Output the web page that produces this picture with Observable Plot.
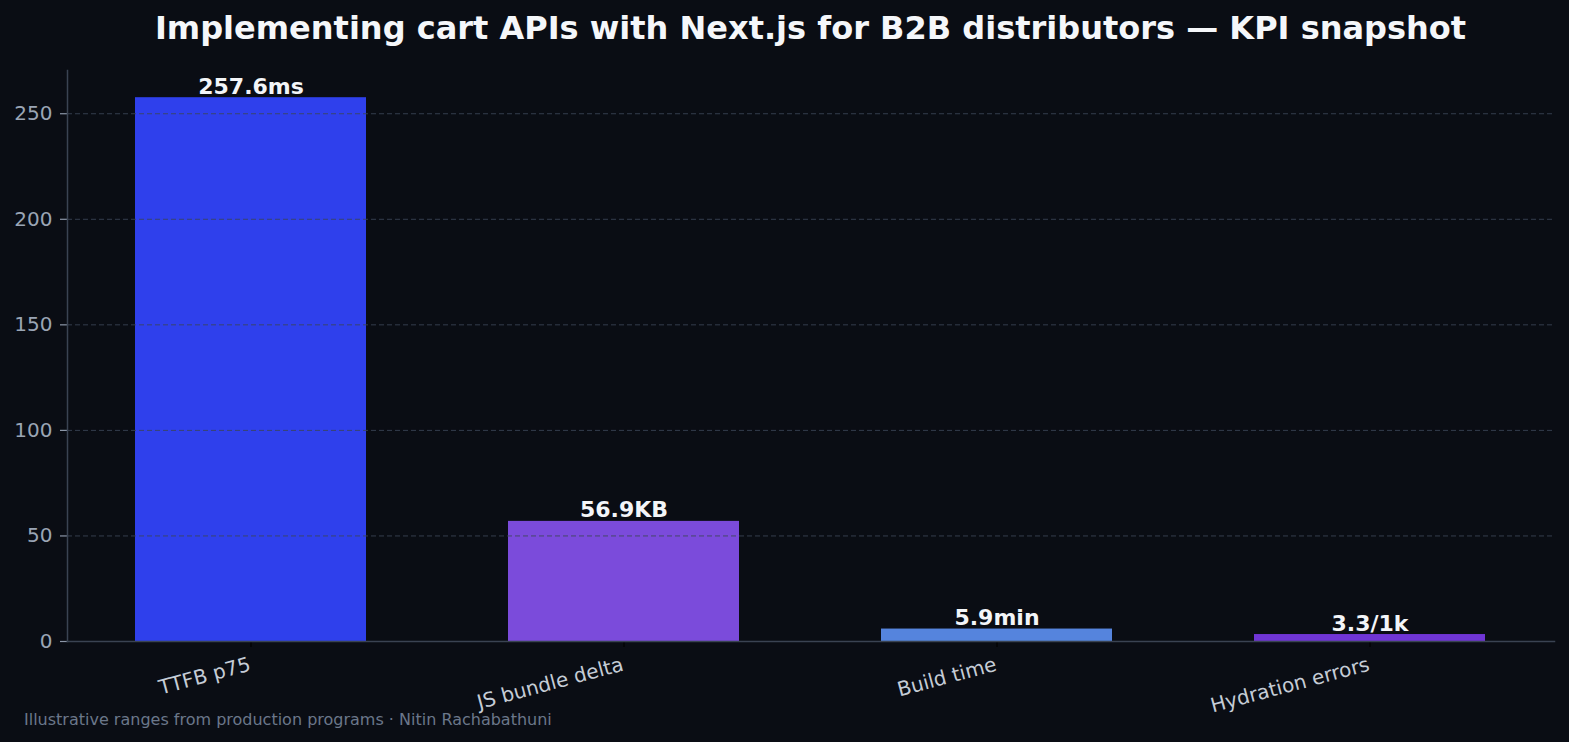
<!DOCTYPE html>
<html>
<head>
<meta charset="utf-8">
<script src="https://cdn.jsdelivr.net/npm/d3@7"></script>
<script src="https://cdn.jsdelivr.net/npm/@observablehq/plot@0.6"></script>
<style>
  html, body { margin: 0; padding: 0; background: #0a0d14; }
  #wrap { position: relative; width: 1569px; height: 742px; background: #0a0d14; overflow: hidden; font-family: "DejaVu Sans", sans-serif; }
  #title { position: absolute; left: 67px; width: 1487px; top: 8px; text-align: center; color: #f5f7fa; font-weight: bold; font-size: 32px; line-height: 40px; white-space: nowrap; z-index: 2; }
  #chart { position: absolute; left: 0; top: 50px; }
  #caption { position: absolute; left: 24px; top: 709px; color: #6b778a; font-size: 16px; line-height: 22px; white-space: nowrap; z-index: 2; }
</style>
</head>
<body>
<div id="wrap">
  <div id="title">Implementing cart APIs with Next.js for B2B distributors — KPI snapshot</div>
  <div id="chart"></div>
  <div id="caption">Illustrative ranges from production programs · Nitin Rachabathuni</div>
</div>
<script>
const categories = ["TTFB p75", "JS bundle delta", "Build time", "Hydration errors"];
const values = [257.6, 56.9, 5.9, 3.3];
const valueLabels = ["257.6ms", "56.9KB", "5.9min", "3.3/1k"];
const yTicks = [0, 50, 100, 150, 200, 250];

const palette = ["#2f40ec", "#7b4bdb", "#5584dd", "#7035d6"];

const data = categories.map((c, i) => ({cat: c, value: values[i], label: valueLabels[i]}));

const chart = Plot.plot({
  width: 1569,
  height: 692,
  marginTop: 20,
  marginBottom: 101,
  marginLeft: 67,
  marginRight: 15,
  style: {background: "transparent", fontFamily: "DejaVu Sans, sans-serif"},
  x: {domain: categories, paddingInner: 0.38, paddingOuter: 0.181, label: null, axis: null},
  y: {domain: [0, 270.48], label: null, axis: null},
  color: {domain: categories, range: palette},
  marks: [
    Plot.barY(data, {x: "cat", y: "value", fill: "cat"}),
    Plot.gridY(yTicks.filter(d => d > 0), {stroke: "#3b4557", strokeOpacity: 0.85, strokeWidth: 1, strokeDasharray: "5,3"}),
    Plot.axisY({ticks: yTicks, text: null, tickSize: 7, stroke: "#8c97a8", strokeWidth: 1.2}),
    Plot.axisY({ticks: yTicks, tickSize: 0, tickPadding: 15, fill: "#9aa5b5", fontSize: 20, label: null}),
    Plot.axisX({text: null, tickSize: 6, stroke: "#000000", strokeWidth: 1.2}),
    Plot.frame({anchor: "left", stroke: "#3a4352", strokeWidth: 1.5}),
    Plot.frame({anchor: "bottom", stroke: "#3a4352", strokeWidth: 1.5}),
    Plot.text(categories, {x: d => d, frameAnchor: "bottom", dy: 15, dx: -3, rotate: -15, textAnchor: "end", lineAnchor: "top", fill: "#c5ccd6", fontSize: 20}),
    Plot.text(data, {x: "cat", y: "value", text: "label", dy: -4, lineAnchor: "bottom", fill: "#f3f5f8", fontWeight: "bold", fontSize: 22})
  ]
});
document.getElementById("chart").appendChild(chart);
</script>
</body>
</html>
